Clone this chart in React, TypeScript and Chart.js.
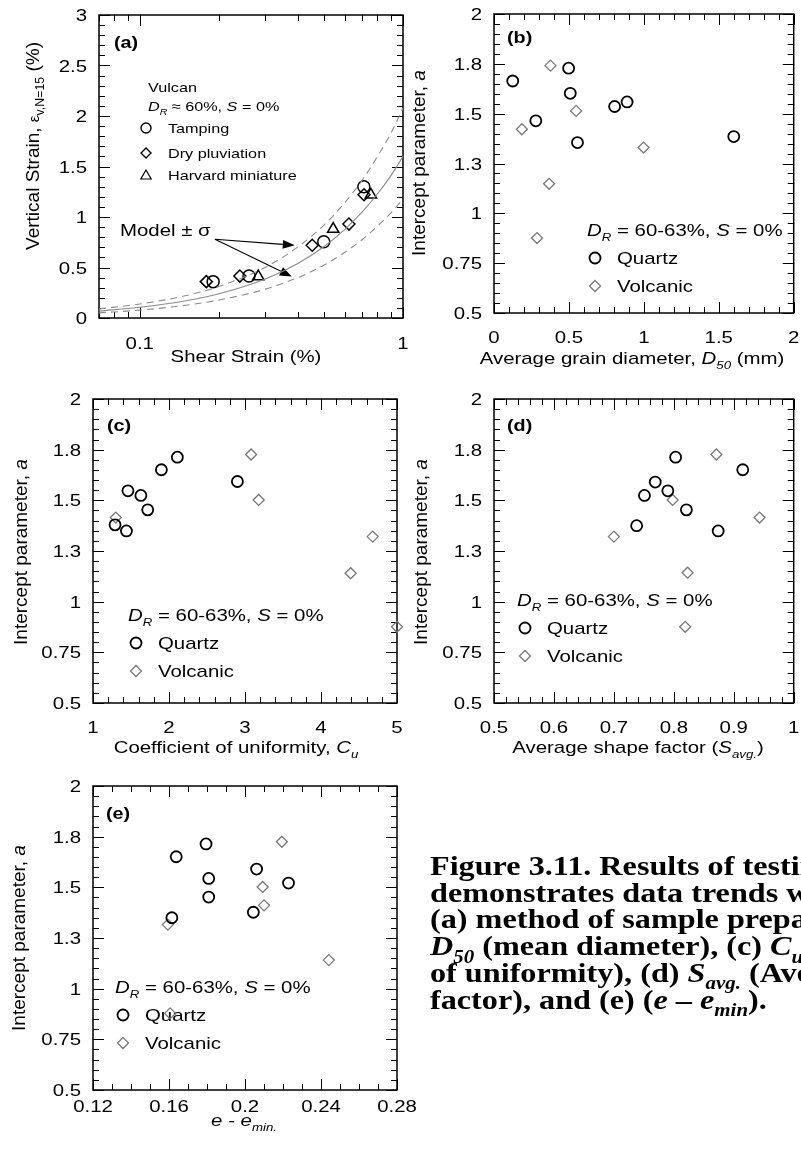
import React, { useEffect, useRef } from "react";
import { Chart, registerables } from "chart.js";

Chart.register(...registerables);

const W = 801;
const H = 1150;
const SANS = '"Liberation Sans", Arial, Helvetica, sans-serif';
const SERIF = '"Liberation Serif", "Times New Roman", serif';
const SX = 1.2; // horizontal widening applied to figure lettering

// ---- (a) Vulcan sand: vertical strain vs shear strain by preparation method
const TAMPING_GAMMA = [0.19, 0.26, 0.5, 0.71];
const TAMPING_EV = [0.36, 0.415, 0.755, 1.3];
const PLUVIATION_GAMMA = [0.179, 0.24, 0.452, 0.623, 0.711];
const PLUVIATION_EV = [0.36, 0.415, 0.72, 0.93, 1.22];
const HARVARD_GAMMA = [0.282, 0.543, 0.755];
const HARVARD_EV = [0.41, 0.88, 1.22];

// model curve and +/- one standard deviation
const MODEL_GAMMA = [0.07, 0.1, 0.15, 0.2, 0.3, 0.4, 0.5, 0.6, 0.7, 0.8, 0.9, 1.0];
const MODEL_MEAN = [0.069, 0.106, 0.171, 0.24, 0.386, 0.543, 0.706, 0.875, 1.05, 1.23, 1.41, 1.6];
const MODEL_UPPER = [0.09, 0.138, 0.222, 0.312, 0.502, 0.706, 0.918, 1.14, 1.365, 1.6, 1.83, 2.08];
const MODEL_LOWER = [0.051, 0.078, 0.127, 0.178, 0.286, 0.402, 0.522, 0.648, 0.777, 0.91, 1.04, 1.18];

const STRAIN_TICKS = [0, 0.5, 1, 1.5, 2, 2.5, 3];
const STRAIN_LABELS = ["0", "0.5", "1", "1.5", "2", "2.5", "3"];
const SHEAR_TICKS = [0.1, 1];
const SHEAR_LABELS = ["0.1", "1"];
const SHEAR_MINOR = [0.07, 0.08, 0.09, 0.2, 0.3, 0.4, 0.5, 0.6, 0.7, 0.8, 0.9];

// ---- intercept parameter a, shared by (b)-(e)
const A_TICKS = [0.5, 0.75, 1, 1.25, 1.5, 1.75, 2];
const A_LABELS = ["0.5", "0.75", "1", "1.3", "1.5", "1.8", "2"];

// (b) mean grain diameter D50 (mm)
const D50_QUARTZ = [0.125, 0.279, 0.498, 0.509, 0.557, 0.805, 0.888, 1.6];
const A_QUARTZ_B = [1.664, 1.464, 1.728, 1.602, 1.355, 1.536, 1.559, 1.385];
const D50_VOLCANIC = [0.377, 0.186, 0.548, 0.998, 0.368, 0.287];
const A_VOLCANIC_B = [1.741, 1.422, 1.514, 1.33, 1.148, 0.876];
const D50_TICKS = [0, 0.5, 1, 1.5, 2];
const D50_LABELS = ["0", "0.5", "1", "1.5", "2"];

// (c) coefficient of uniformity Cu
const CU_QUARTZ = [1.29, 1.44, 1.46, 1.63, 1.72, 1.9, 2.11, 2.9];
const A_QUARTZ_C = [1.379, 1.349, 1.547, 1.524, 1.453, 1.651, 1.713, 1.593];
const CU_VOLCANIC = [1.3, 3.08, 3.18, 4.68, 4.39, 5.0];
const A_VOLCANIC_C = [1.415, 1.726, 1.502, 1.321, 1.14, 0.876];
const CU_TICKS = [1, 2, 3, 4, 5];
const CU_LABELS = ["1", "2", "3", "4", "5"];

// (d) average shape factor
const SAVG_QUARTZ = [0.738, 0.751, 0.769, 0.79, 0.803, 0.821, 0.874, 0.915];
const A_QUARTZ_D = [1.375, 1.524, 1.59, 1.547, 1.713, 1.453, 1.349, 1.651];
const SAVG_VOLCANIC = [0.7, 0.798, 0.871, 0.943, 0.823, 0.819];
const A_VOLCANIC_D = [1.321, 1.502, 1.726, 1.415, 1.143, 0.876];
const SAVG_TICKS = [0.5, 0.6, 0.7, 0.8, 0.9, 1];
const SAVG_LABELS = ["0.5", "0.6", "0.7", "0.8", "0.9", "1"];

// (e) void ratio above minimum, e - emin
const DE_QUARTZ = [0.1615, 0.1638, 0.1795, 0.1809, 0.1809, 0.2044, 0.2061, 0.2229];
const A_QUARTZ_E = [1.35, 1.651, 1.714, 1.544, 1.452, 1.377, 1.59, 1.521];
const DE_VOLCANIC = [0.1594, 0.2194, 0.2093, 0.21, 0.2441, 0.1606];
const A_VOLCANIC_E = [1.316, 1.725, 1.502, 1.411, 1.141, 0.878];
const DE_TICKS = [0.12, 0.16, 0.2, 0.24, 0.28];
const DE_LABELS = ["0.12", "0.16", "0.2", "0.24", "0.28"];

type Seg = { t: string; i?: boolean; b?: boolean; sub?: boolean; k?: number };
type TextOpt = {
  align?: "left" | "center" | "right";
  rot?: boolean;
  family?: string;
  sx?: number;
  color?: string;
  bold?: boolean;
};

function steps(min: number, max: number, step: number): number[] {
  const out: number[] = [];
  const n = Math.round((max - min) / step);
  for (let k = 0; k <= n; k++) out.push(+(min + k * step).toFixed(6));
  return out;
}

// draws mixed italic / subscript text; y is the vertical middle of capitals
function text(
  ctx: CanvasRenderingContext2D,
  segs: Seg[] | string,
  x: number,
  y: number,
  size: number,
  o: TextOpt = {}
) {
  const list: Seg[] = typeof segs === "string" ? [{ t: segs }] : segs;
  const fam = o.family ?? SANS;
  const sx = o.sx ?? SX;
  const font = (s: Seg) => {
    const sz = size * (s.k ?? 1) * (s.sub ? 0.65 : 1);
    return `${s.i ? "italic " : ""}${s.b || o.bold ? "bold " : ""}${sz}px ${fam}`;
  };
  ctx.save();
  ctx.translate(x, y);
  ctx.scale(sx, 1);
  if (o.rot) ctx.rotate(-Math.PI / 2);
  ctx.fillStyle = o.color ?? "#000";
  ctx.textBaseline = "alphabetic";
  ctx.textAlign = "left";
  const widths = list.map((s) => {
    ctx.font = font(s);
    return ctx.measureText(s.t).width;
  });
  const total = widths.reduce((p, c) => p + c, 0);
  let cx = o.align === "center" ? -total / 2 : o.align === "right" ? -total : 0;
  const base = size * 0.36;
  list.forEach((s, n) => {
    ctx.font = font(s);
    ctx.fillText(s.t, cx, base + (s.sub ? size * 0.27 : 0));
    cx += widths[n];
  });
  ctx.restore();
}

function marker(
  ctx: CanvasRenderingContext2D,
  kind: "circle" | "diamond" | "triangle",
  x: number,
  y: number,
  r: number,
  color: string,
  lw: number
) {
  ctx.save();
  ctx.strokeStyle = color;
  ctx.lineWidth = lw;
  ctx.beginPath();
  if (kind === "circle") {
    ctx.arc(x, y, r, 0, Math.PI * 2);
  } else if (kind === "diamond") {
    ctx.moveTo(x, y - r);
    ctx.lineTo(x + r, y);
    ctx.lineTo(x, y + r);
    ctx.lineTo(x - r, y);
    ctx.closePath();
  } else {
    ctx.moveTo(x, y - r);
    ctx.lineTo(x + r * 0.866, y + r * 0.5);
    ctx.lineTo(x - r * 0.866, y + r * 0.5);
    ctx.closePath();
  }
  ctx.stroke();
  ctx.restore();
}

function arrow(ctx: CanvasRenderingContext2D, x0: number, y0: number, x1: number, y1: number) {
  const ang = Math.atan2(y1 - y0, x1 - x0);
  const len = 12;
  const hw = 4.5;
  const bx = x1 - len * Math.cos(ang);
  const by = y1 - len * Math.sin(ang);
  ctx.save();
  ctx.strokeStyle = "#000";
  ctx.fillStyle = "#000";
  ctx.lineWidth = 1.1;
  ctx.beginPath();
  ctx.moveTo(x0, y0);
  ctx.lineTo(bx, by);
  ctx.stroke();
  ctx.beginPath();
  ctx.moveTo(x1, y1);
  ctx.lineTo(bx + hw * Math.sin(ang), by - hw * Math.cos(ang));
  ctx.lineTo(bx - hw * Math.sin(ang), by + hw * Math.cos(ang));
  ctx.closePath();
  ctx.fill();
  ctx.restore();
}

const DR_TEXT: Seg[] = [
  { t: "D", i: true },
  { t: "R", i: true, sub: true },
  { t: " = 60-63%, " },
  { t: "S", i: true },
  { t: " = 0%" },
];

function mineralLegend(ctx: CanvasRenderingContext2D, x: number, y: number) {
  text(ctx, DR_TEXT, x, y, 17);
  marker(ctx, "circle", x + 8, y + 28, 5.5, "#000", 1.8);
  text(ctx, "Quartz", x + 30, y + 28, 17);
  marker(ctx, "diamond", x + 8, y + 56, 5.5, "#777", 1.3);
  text(ctx, "Volcanic", x + 30, y + 56, 17);
}

const INTERCEPT_TITLE: Seg[] = [{ t: "Intercept parameter, " }, { t: "a", i: true }];

type Axis = {
  type?: "linear" | "logarithmic";
  min: number;
  max: number;
  major: number[];
  labels: string[];
  minor: number[];
};

type Panel = {
  key: string;
  area: { l: number; r: number; t: number; b: number };
  x: Axis;
  y: Axis;
  xLabelGap: number;
  makeDatasets: () => any[];
  decorate: (ctx: CanvasRenderingContext2D, chart: any) => void;
};

const pts = (xs: number[], ys: number[]) => xs.map((x, k) => ({ x, y: ys[k] }));

const pointSet = (label: string, xs: number[], ys: number[], style: string, r: number, color: string, lw: number) => ({
  label,
  data: pts(xs, ys),
  showLine: false,
  pointStyle: style,
  pointRadius: r,
  pointBorderColor: color,
  pointBackgroundColor: "rgba(0,0,0,0)",
  pointBorderWidth: lw,
  borderColor: color,
  backgroundColor: "rgba(0,0,0,0)",
  clip: false,
});

const quartz = (xs: number[], ys: number[]) => pointSet("Quartz", xs, ys, "circle", 5.5, "#000", 1.8);
const volcanic = (xs: number[], ys: number[]) => pointSet("Volcanic", xs, ys, "rectRot", 5.5, "#777", 1.3);

const curve = (label: string, ys: number[], dash: number[]) => ({
  label,
  data: pts(MODEL_GAMMA, ys),
  showLine: true,
  pointRadius: 0,
  borderColor: "#8a8a8a",
  borderWidth: 1.1,
  borderDash: dash,
  cubicInterpolationMode: "monotone",
  fill: false,
  clip: false,
});

const INTERCEPT_AXIS: Axis = { min: 0.5, max: 2, major: A_TICKS, labels: A_LABELS, minor: steps(0.5, 2, 0.05) };

const PANEL_TAG = 16.5;

const PANELS: Panel[] = [
  {
    key: "a",
    area: { l: 99, r: 403, t: 15, b: 318 },
    x: { type: "logarithmic", min: 0.07, max: 1, major: SHEAR_TICKS, labels: SHEAR_LABELS, minor: SHEAR_MINOR },
    y: { min: 0, max: 3, major: STRAIN_TICKS, labels: STRAIN_LABELS, minor: steps(0, 3, 0.1) },
    xLabelGap: 25,
    makeDatasets: () => [
      curve("Model", MODEL_MEAN, []),
      curve("Model + σ", MODEL_UPPER, [7, 5]),
      curve("Model - σ", MODEL_LOWER, [7, 5]),
      pointSet("Tamping", TAMPING_GAMMA, TAMPING_EV, "circle", 6, "#000", 1.5),
      pointSet("Dry pluviation", PLUVIATION_GAMMA, PLUVIATION_EV, "rectRot", 6, "#000", 1.5),
      pointSet("Harvard miniature", HARVARD_GAMMA, HARVARD_EV, "triangle", 6.5, "#000", 1.5),
    ],
    decorate: (ctx, chart) => {
      const xs = chart.scales.x;
      const ys = chart.scales.y;
      text(ctx, "(a)", 114, 42, PANEL_TAG, { bold: true });
      text(ctx, "Vulcan", 148, 87, 13.5);
      text(
        ctx,
        [{ t: "D", i: true }, { t: "R", i: true, sub: true }, { t: " ≈ 60%, " }, { t: "S", i: true }, { t: " = 0%" }],
        148,
        106,
        13.5
      );
      marker(ctx, "circle", 146, 128, 5, "#000", 1.4);
      text(ctx, "Tamping", 168, 128, 13.5);
      marker(ctx, "diamond", 146, 153, 5, "#000", 1.4);
      text(ctx, "Dry pluviation", 168, 153, 13.5);
      marker(ctx, "triangle", 146, 176, 6, "#000", 1.2);
      text(ctx, "Harvard miniature", 168, 175, 13.5);
      text(ctx, "Model ± σ", 120, 230, 17);
      const x0 = xs.getPixelForValue(0.193);
      const y0 = ys.getPixelForValue(0.78);
      arrow(ctx, x0, y0, xs.getPixelForValue(0.388), ys.getPixelForValue(0.72));
      arrow(ctx, x0, y0, xs.getPixelForValue(0.378), ys.getPixelForValue(0.41));
      text(ctx, "Shear Strain (%)", 246, 356, 17, { align: "center" });
      text(
        ctx,
        [
          { t: "Vertical Strain, " },
          { t: "ε", k: 0.8 },
          { t: "v,N=15", sub: true },
          { t: " (%)" },
        ],
        32,
        146,
        19,
        { rot: true, sx: 1, align: "center" }
      );
    },
  },
  {
    key: "b",
    area: { l: 494, r: 796, t: 14, b: 313 },
    x: { min: 0, max: 2, major: D50_TICKS, labels: D50_LABELS, minor: steps(0, 2, 0.1) },
    y: INTERCEPT_AXIS,
    xLabelGap: 24,
    makeDatasets: () => [quartz(D50_QUARTZ, A_QUARTZ_B), volcanic(D50_VOLCANIC, A_VOLCANIC_B)],
    decorate: (ctx) => {
      text(ctx, "(b)", 507, 37, PANEL_TAG, { bold: true });
      mineralLegend(ctx, 587, 230);
      text(
        ctx,
        [{ t: "Average grain diameter, " }, { t: "D", i: true }, { t: "50", i: true, sub: true }, { t: " (mm)" }],
        632,
        358,
        17,
        { align: "center" }
      );
      text(ctx, INTERCEPT_TITLE, 418, 163, 19, { rot: true, sx: 1, align: "center" });
    },
  },
  {
    key: "c",
    area: { l: 93, r: 397, t: 399, b: 703 },
    x: { min: 1, max: 5, major: CU_TICKS, labels: CU_LABELS, minor: steps(1, 5, 0.2) },
    y: INTERCEPT_AXIS,
    xLabelGap: 24,
    makeDatasets: () => [quartz(CU_QUARTZ, A_QUARTZ_C), volcanic(CU_VOLCANIC, A_VOLCANIC_C)],
    decorate: (ctx) => {
      text(ctx, "(c)", 107, 425, PANEL_TAG, { bold: true });
      mineralLegend(ctx, 128, 615);
      text(
        ctx,
        [{ t: "Coefficient of uniformity, " }, { t: "C", i: true }, { t: "u", i: true, sub: true }],
        236,
        747,
        17,
        { align: "center" }
      );
      text(ctx, INTERCEPT_TITLE, 20, 552, 19, { rot: true, sx: 1, align: "center" });
    },
  },
  {
    key: "d",
    area: { l: 494, r: 796, t: 399, b: 703 },
    x: { min: 0.5, max: 1, major: SAVG_TICKS, labels: SAVG_LABELS, minor: steps(0.5, 1, 0.02) },
    y: INTERCEPT_AXIS,
    xLabelGap: 24,
    makeDatasets: () => [quartz(SAVG_QUARTZ, A_QUARTZ_D), volcanic(SAVG_VOLCANIC, A_VOLCANIC_D)],
    decorate: (ctx) => {
      text(ctx, "(d)", 507, 425, PANEL_TAG, { bold: true });
      mineralLegend(ctx, 517, 600);
      text(
        ctx,
        [{ t: "Average shape factor (" }, { t: "S", i: true }, { t: "avg.", i: true, sub: true }, { t: ")" }],
        638,
        747,
        17,
        { align: "center" }
      );
      text(ctx, INTERCEPT_TITLE, 420, 552, 19, { rot: true, sx: 1, align: "center" });
    },
  },
  {
    key: "e",
    area: { l: 93, r: 397, t: 786, b: 1090 },
    x: { min: 0.12, max: 0.28, major: DE_TICKS, labels: DE_LABELS, minor: steps(0.12, 0.28, 0.01) },
    y: INTERCEPT_AXIS,
    xLabelGap: 16,
    makeDatasets: () => [quartz(DE_QUARTZ, A_QUARTZ_E), volcanic(DE_VOLCANIC, A_VOLCANIC_E)],
    decorate: (ctx) => {
      text(ctx, "(e)", 106, 813, PANEL_TAG, { bold: true });
      mineralLegend(ctx, 115, 987);
      text(ctx, [{ t: "e - e", i: true }, { t: "min.", i: true, sub: true }], 244, 1120, 17, { align: "center" });
      text(ctx, INTERCEPT_TITLE, 18, 938, 19, { rot: true, sx: 1, align: "center" });

      // figure caption
      const cap: Seg[][] = [
        [{ t: "Figure 3.11. Results of testing program that" }],
        [{ t: "demonstrates data trends with respect to" }],
        [{ t: "(a) method of sample preparation, (b)" }],
        [
          { t: "D", i: true },
          { t: "50", i: true, sub: true },
          { t: " (mean diameter), (c) " },
          { t: "C", i: true },
          { t: "u", i: true, sub: true },
          { t: " (coefficient" },
        ],
        [
          { t: "of uniformity), (d) " },
          { t: "S", i: true },
          { t: "avg.", i: true, sub: true },
          { t: " (Average shape" },
        ],
        [
          { t: "factor), and (e) (" },
          { t: "e", i: true },
          { t: " – " },
          { t: "e", i: true },
          { t: "min", i: true, sub: true },
          { t: ")." },
        ],
      ];
      const size = 28;
      cap.forEach((line, n) => {
        const baseline = 875 + n * 26.7;
        text(ctx, line, 430, baseline - size * 0.36, size, { family: SERIF, bold: true, sx: 1.15 });
      });
    },
  },
];

const MAJ = 11;
const MIN = 6;

function drawAxes(chart: any, p: Panel) {
  const ctx = chart.ctx as CanvasRenderingContext2D;
  const { left, right, top, bottom } = chart.chartArea;
  const xs = chart.scales.x;
  const ys = chart.scales.y;
  ctx.save();
  ctx.strokeStyle = "#000";
  ctx.lineWidth = 1;
  ctx.beginPath();
  const xt = (v: number, len: number) => {
    const px = Math.round(xs.getPixelForValue(v)) + 0.5;
    ctx.moveTo(px, bottom);
    ctx.lineTo(px, bottom - len);
    ctx.moveTo(px, top);
    ctx.lineTo(px, top + len);
  };
  const yt = (v: number, len: number) => {
    const py = Math.round(ys.getPixelForValue(v)) + 0.5;
    ctx.moveTo(left, py);
    ctx.lineTo(left + len, py);
    ctx.moveTo(right, py);
    ctx.lineTo(right - len, py);
  };
  p.x.minor.forEach((v) => xt(v, MIN));
  p.x.major.forEach((v) => xt(v, MAJ));
  p.y.minor.forEach((v) => yt(v, MIN));
  p.y.major.forEach((v) => yt(v, MAJ));
  ctx.stroke();
  ctx.lineWidth = 1.5;
  ctx.strokeRect(left, top, right - left, bottom - top);
  ctx.restore();
  p.x.major.forEach((v, n) =>
    text(ctx, p.x.labels[n], xs.getPixelForValue(v), bottom + p.xLabelGap, 17, { align: "center" })
  );
  p.y.major.forEach((v, n) => text(ctx, p.y.labels[n], left - 12, ys.getPixelForValue(v), 17, { align: "right" }));
}

function PanelChart({ p }: { p: Panel }) {
  const ref = useRef<HTMLCanvasElement>(null);
  useEffect(() => {
    const canvas = ref.current;
    if (!canvas) return;
    const chart = new Chart(canvas, {
      type: "scatter",
      data: { datasets: p.makeDatasets() },
      options: {
        responsive: false,
        animation: false,
        devicePixelRatio: 1,
        events: [],
        layout: {
          padding: { left: p.area.l, right: W - p.area.r, top: p.area.t, bottom: H - p.area.b },
        },
        scales: {
          x: { type: p.x.type ?? "linear", min: p.x.min, max: p.x.max, display: false },
          y: { type: "linear", min: p.y.min, max: p.y.max, display: false },
        },
        plugins: { legend: { display: false }, tooltip: { enabled: false } },
      } as any,
      plugins: [
        {
          id: "frame-" + p.key,
          beforeDatasetsDraw(ch: any) {
            drawAxes(ch, p);
            p.decorate(ch.ctx, ch);
          },
        },
      ],
    });
    return () => chart.destroy();
  }, [p]);
  return (
    <canvas
      ref={ref}
      width={W}
      height={H}
      style={{ position: "absolute", left: 0, top: 0, width: W, height: H }}
    />
  );
}

export default function App() {
  return (
    <div
      style={{
        position: "absolute",
        left: 0,
        top: 0,
        width: W,
        height: H,
        overflow: "hidden",
        background: "#fff",
      }}
    >
      {PANELS.map((p) => (
        <PanelChart key={p.key} p={p} />
      ))}
    </div>
  );
}
